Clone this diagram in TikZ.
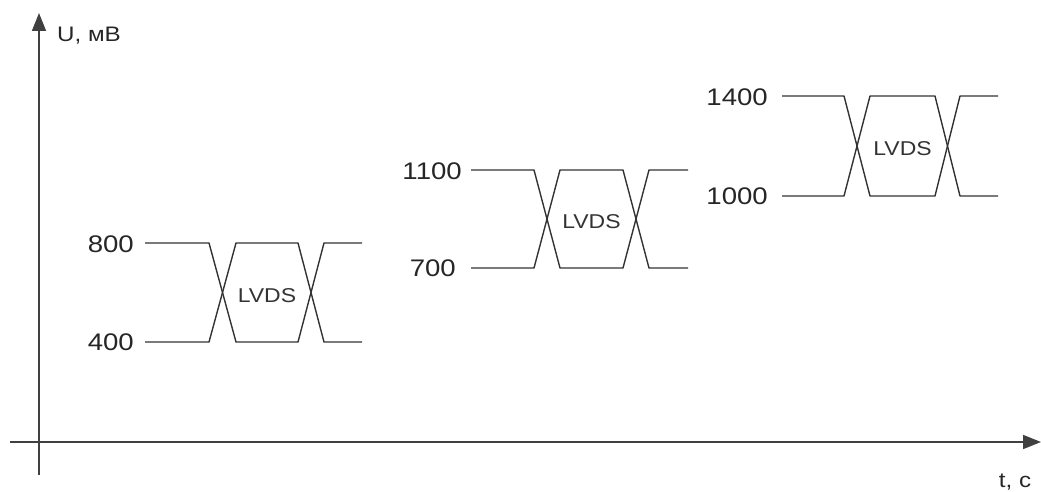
\documentclass[tikz,border=0pt]{standalone}
\usepackage{fontspec}
\setmainfont{Liberation Sans}[FakeStretch=1.15]
\usetikzlibrary{arrows.meta}
\tikzset{
  axis/.style={line width=1.6pt, draw=black!75, -{Triangle[length=18pt,width=14pt]}},
  signal/.style={line width=1.4pt, draw=black!80, line join=round},
  level/.style={anchor=east, inner sep=0pt, font=\fontsize{24}{24}\selectfont, text=black!85},
  tag/.style={inner sep=0pt, font=\fontsize{20}{20}\selectfont, text=black!80},
  axislabel/.style={inner sep=0pt, font=\fontsize{21}{21}\selectfont, text=black!85}
}
% draws one eye pattern: #1 x0 (line start), #2 x1 (first transition start),
% #3 x2 (first transition end), #4 x3, #5 x4, #6 x5 (line end), #7 y high, #8 y low, #9 name
\newcommand{\eyepattern}[9]{%
  \draw[signal] (#1,#7) -- (#2,#7) -- (#3,#8) -- (#4,#8) -- (#5,#7) -- (#6,#7);
  \draw[signal] (#1,#8) -- (#2,#8) -- (#3,#7) -- (#4,#7) -- (#5,#8) -- (#6,#8);
  \node[tag] (#9) at ({(#3+#4)/2},{(#7+#8)/2+3}) {LVDS};
}
\begin{document}
\begin{tikzpicture}[x=1pt,y=-1pt]
  \useasboundingbox (0,0) rectangle (1041,492);
  % axes
  \coordinate (yb) at (39,475);
  \coordinate (yt) at (39,13);
  \coordinate (xl) at (10,442);
  \coordinate (xr) at (1041,442);
  \draw[axis] (yb) -- (yt);
  \draw[axis] (xl) -- (xr);
  \node[axislabel, anchor=west] (ulab) at (57,36) {U, мВ};
  \node[axislabel] (tlab) at (1015,482) {t, c};

  % first pair: 400 / 800
  \eyepattern{145}{209}{236}{298}{324}{362}{243}{342}{e1}
  \node[level] (l800) at (134,244) {800};
  \node[level] (l400) at (134,342) {400};

  % second pair: 700 / 1100
  \eyepattern{471}{534}{560}{623}{649}{688}{170}{268}{e2}
  \node[level] (l1100) at (462,171) {1100};
  \node[level] (l700) at (456,268) {700};

  % third pair: 1000 / 1400
  \eyepattern{782}{844}{870}{935}{960}{998}{96}{196}{e3}
  \node[level] (l1400) at (768,97) {1400};
  \node[level] (l1000) at (768,196) {1000};
\end{tikzpicture}
\end{document}
